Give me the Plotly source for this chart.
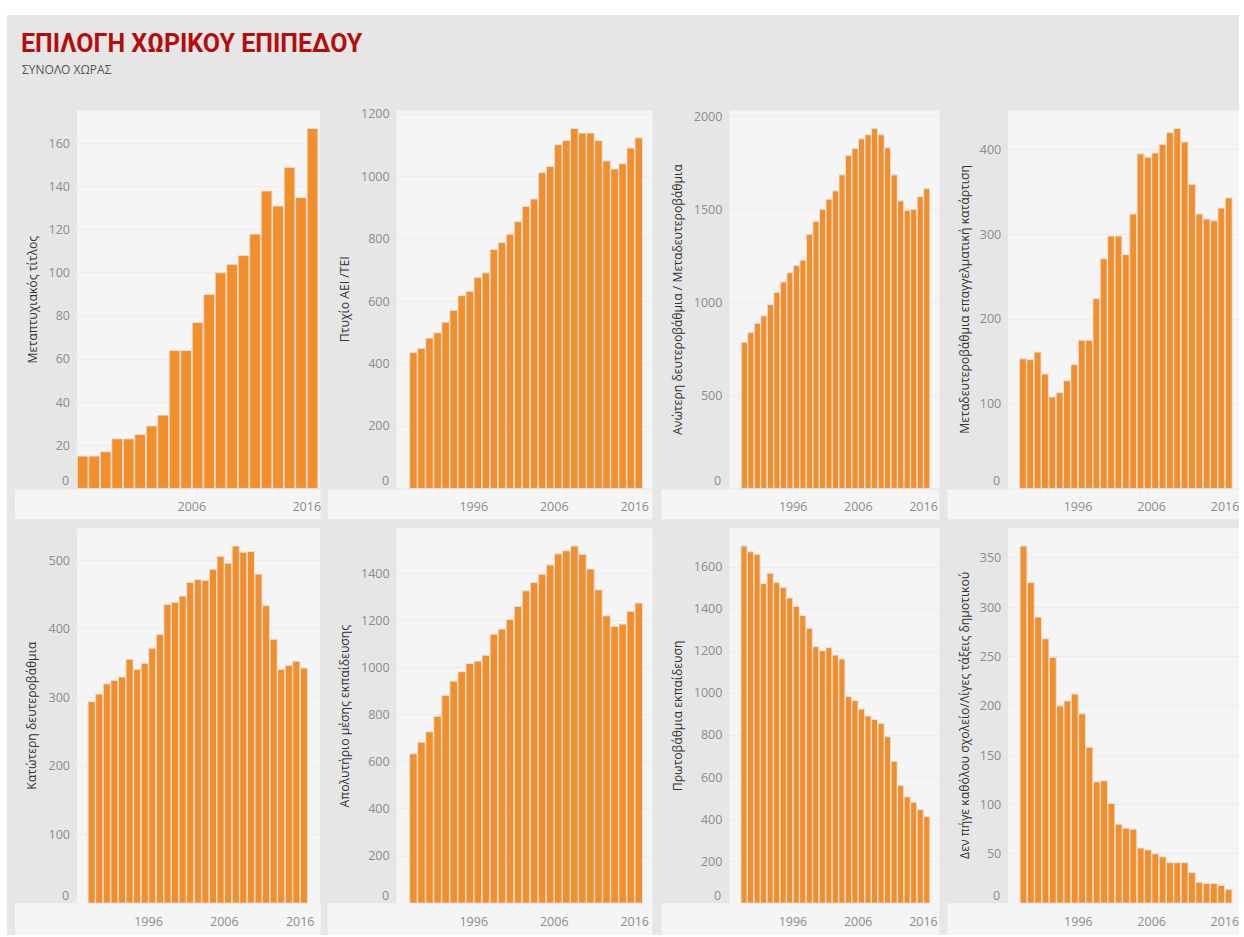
import plotly.graph_objects as go

# ---------------- data ----------------
years_postgrad = list(range(1996, 2017))
years = list(range(1988, 2017))

postgrad = [15, 15, 17, 23, 23, 25, 29, 34, 64, 64, 77, 90, 100, 104, 108, 118, 138, 131, 149, 135, 167]
degree = [436, 449, 482, 499, 533, 571, 618, 632, 676, 691, 766, 788, 815, 855, 904, 928, 1012, 1032,
          1102, 1115, 1154, 1139, 1139, 1115, 1050, 1024, 1041, 1091, 1124]
upper_sec = [787, 839, 889, 929, 989, 1055, 1111, 1161, 1200, 1229, 1368, 1438, 1502, 1557, 1602, 1688,
             1793, 1830, 1882, 1904, 1938, 1904, 1834, 1688, 1548, 1496, 1502, 1570, 1614]
vocational = [153, 152, 161, 135, 108, 113, 127, 146, 175, 175, 224, 271, 298, 298, 276, 324, 395, 391,
              396, 406, 420, 425, 409, 359, 324, 318, 316, 331, 343]
lower_sec = [294, 305, 320, 325, 330, 356, 341, 350, 372, 392, 436, 439, 448, 468, 472, 471, 487, 506,
             496, 521, 512, 513, 480, 434, 385, 341, 347, 353, 343]
hs_diploma = [634, 683, 727, 793, 882, 942, 982, 1017, 1027, 1052, 1141, 1163, 1203, 1259, 1325, 1360,
              1395, 1435, 1482, 1495, 1515, 1480, 1418, 1329, 1219, 1174, 1184, 1238, 1273]
primary = [1700, 1673, 1661, 1522, 1571, 1527, 1503, 1453, 1413, 1369, 1309, 1221, 1202, 1216, 1181, 1162,
           984, 964, 924, 891, 874, 856, 792, 675, 560, 506, 481, 446, 412]
no_school = [362, 325, 290, 268, 249, 200, 205, 212, 192, 158, 123, 124, 101, 80, 76, 75, 56, 54, 50, 47,
             41, 41, 41, 31, 21, 20, 20, 18, 14]

titles = [
    "Μεταπτυχιακός τίτλος",
    "Πτυχίο ΑΕΙ /ΤΕΙ",
    "Ανώτερη δευτεροβάθμια / Μεταδευτεροβάθμια",
    "Μεταδευτεροβάθμια επαγγελματική κατάρτιση",
    "Κατώτερη δευτεροβάθμια",
    "Απολυτήριο μέσης εκπαίδευσης",
    "Πρωτοβάθμια εκπαίδευση",
    "Δεν πήγε καθόλου σχολείο/Λίγες τάξεις δημοτικού",
]
series = [
    (years_postgrad, postgrad),
    (years, degree),
    (years, upper_sec),
    (years, vocational),
    (years, lower_sec),
    (years, hs_diploma),
    (years, primary),
    (years, no_school),
]
y_dticks = [20, 200, 500, 100, 100, 200, 200, 50]
x_ticks = [[2006, 2016], [1996, 2006, 2016], [1996, 2006, 2016], [1996, 2006, 2016],
           [1996, 2006, 2016], [1996, 2006, 2016], [1996, 2006, 2016], [1996, 2006, 2016]]

main_title = "ΕΠΙΛΟΓΗ ΧΩΡΙΚΟΥ ΕΠΙΠΕΔΟΥ"
sub_title = "ΣΥΝΟΛΟ ΧΩΡΑΣ"

# ---------------- layout geometry (screen pixels) ----------------
W, H = 1244, 937


def fx(X):
    return X / W


def fy(Y):
    return 1 - Y / H


col_x = [(77, 320), (397, 653), (730, 940), (1009, 1240)]
row_y = [(106, 486), (526, 903)]
strip_x = [(15, 321), (328, 653), (662, 940), (948, 1240)]
strip_y = [(487, 517), (903, 935)]
title_cx = [32, 345, 678, 965]
x_ranges = [[1996.0, 2017.13], [1986.42, 2018.21], [1986.21, 2018.42], [1986.5, 2017.9],
            [1986.56, 2018.58], [1986.42, 2018.21], [1986.26, 2018.42], [1986.41, 2017.93]]

BAR = "#F28E2B"
PLOT_BG = "#F5F5F5"
PAGE_BG = "#E6E6E6"
TICK_FONT = dict(family="Open Sans", size=12.5, color="#8C8C8C")


def rect(x0, x1, y0, y1, color):
    return dict(type="rect", xref="paper", yref="paper", layer="below",
                x0=fx(x0), x1=fx(x1), y0=fy(y1), y1=fy(y0),
                fillcolor=color, line=dict(width=0))


fig = go.Figure()
layout = dict(
    width=W, height=H,
    margin=dict(l=0, r=0, t=0, b=0),
    paper_bgcolor="#FFFFFF",
    plot_bgcolor="rgba(0,0,0,0)",
    showlegend=False,
    bargap=0.06,
    annotations=[],
    shapes=[rect(7, 1240, 10, 935, PAGE_BG)],
)

for i, ((yrs, vals), title) in enumerate(zip(series, titles)):
    r, c = divmod(i, 4)
    k = "" if i == 0 else str(i + 1)
    fig.add_trace(go.Bar(
        x=[y + 0.5 for y in yrs], y=vals,
        marker=dict(color=BAR, line=dict(color="#E2E2E2", width=1)),
        xaxis="x" + k, yaxis="y" + k,
        hovertemplate="%{y}<extra></extra>",
    ))
    layout["xaxis" + k] = dict(
        domain=[fx(col_x[c][0]), fx(col_x[c][1])],
        anchor="y" + k,
        range=x_ranges[i],
        tickmode="array", tickvals=x_ticks[i], ticktext=[str(t) for t in x_ticks[i]],
        showgrid=False, zeroline=False, showline=False, ticks="",
        tickfont=TICK_FONT, ticklabelstandoff=9,
        fixedrange=True,
    )
    ymax = max(vals) * 1.05
    dt = y_dticks[i]
    yt = list(range(dt, int(ymax) + 1, dt))
    layout["yaxis" + k] = dict(
        domain=[fy(row_y[r][1]), fy(row_y[r][0])],
        anchor="x" + k,
        range=[0, ymax],
        tickmode="array", tickvals=yt, ticktext=[str(v) for v in yt],
        showgrid=True, gridcolor="#EBEBEB", gridwidth=1,
        zeroline=False, showline=False, ticks="",
        tickfont=TICK_FONT, ticklabelstandoff=6,
        fixedrange=True,
    )
    # panel background and the light strip holding the x-axis labels
    layout["shapes"].append(rect(col_x[c][0], col_x[c][1], row_y[r][0], row_y[r][1], PLOT_BG))
    layout["shapes"].append(rect(strip_x[c][0], strip_x[c][1], strip_y[r][0], strip_y[r][1], PLOT_BG))
    # zero label, nudged up inside the panel as in the original dashboard
    layout["annotations"].append(dict(
        text="0", xref="paper", yref="paper",
        x=fx(col_x[c][0] - 6), y=fy(row_y[r][1] - 8),
        xanchor="right", yanchor="middle", showarrow=False,
        font=TICK_FONT,
    ))
    # rotated y-axis title
    layout["annotations"].append(dict(
        text=title, xref="paper", yref="paper",
        x=fx(title_cx[c]), y=fy((row_y[r][0] + row_y[r][1]) / 2),
        xanchor="center", yanchor="middle", textangle=-90, showarrow=False,
        font=dict(family="Open Sans", size=12.2, color="#333333"),
    ))

layout["annotations"].append(dict(
    text="<b>" + main_title + "</b>", xref="paper", yref="paper",
    x=fx(19), y=fy(38.5), xanchor="left", yanchor="middle", showarrow=False,
    font=dict(family="Roboto", size=25, color="#B50D0D"),
))
layout["annotations"].append(dict(
    text=sub_title, xref="paper", yref="paper",
    x=fx(20), y=fy(64.5), xanchor="left", yanchor="middle", showarrow=False,
    font=dict(family="Open Sans", size=12, color="#555555"),
))

fig.update_layout(**layout)
fig.write_html(
    "out.html",
    config={"displayModeBar": False},
    post_script=(
        "var de=document.documentElement, b=document.body;"
        "de.style.overflow='hidden'; de.style.height='937px'; de.style.margin='0';"
        "b.style.margin='0'; b.style.padding='0'; b.style.overflow='hidden';"
        "b.style.height='937px'; b.style.lineHeight='0'; b.style.background='#FFFFFF';"
        "window.scrollTo(0,0);"
    ),
)
